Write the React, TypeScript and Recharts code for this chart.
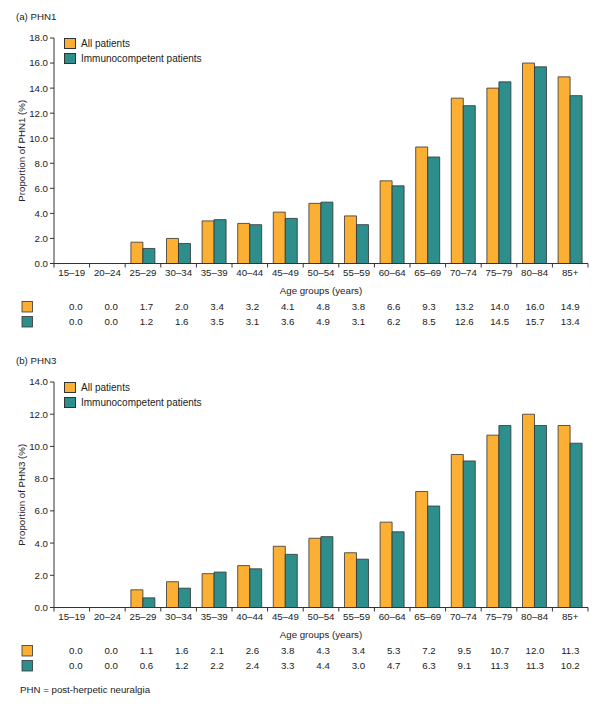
import React from 'react';
import { BarChart, Bar, XAxis, YAxis, Legend } from 'recharts';

const categories = ['15–19', '20–24', '25–29', '30–34', '35–39', '40–44', '45–49', '50–54', '55–59', '60–64', '65–69', '70–74', '75–79', '80–84', '85+'];
const phn1All = [0.0, 0.0, 1.7, 2.0, 3.4, 3.2, 4.1, 4.8, 3.8, 6.6, 9.3, 13.2, 14.0, 16.0, 14.9];
const phn1Immuno = [0.0, 0.0, 1.2, 1.6, 3.5, 3.1, 3.6, 4.9, 3.1, 6.2, 8.5, 12.6, 14.5, 15.7, 13.4];
const phn3All = [0.0, 0.0, 1.1, 1.6, 2.1, 2.6, 3.8, 4.3, 3.4, 5.3, 7.2, 9.5, 10.7, 12.0, 11.3];
const phn3Immuno = [0.0, 0.0, 0.6, 1.2, 2.2, 2.4, 3.3, 4.4, 3.0, 4.7, 6.3, 9.1, 11.3, 11.3, 10.2];
const phn1Ticks = [0, 2, 4, 6, 8, 10, 12, 14, 16, 18];
const phn3Ticks = [0, 2, 4, 6, 8, 10, 12, 14];

const ORANGE = '#FBB033';
const TEAL = '#2E8E8C';
const STROKE = '#333333';
const TEXT = '#222222';
const FONT = '"Liberation Sans", Arial, Helvetica, sans-serif';

const makeTick = (rowA: number[], rowB: number[]) => (props: any) => {
  const { x, y, payload } = props;
  const index = props.index ?? payload?.index ?? 0;
  const half = payload?.offset ?? 17.8;
  const n = rowA.length;
  const shift = 4 - 0.28 * index;
  return (
    <g>
      <line x1={x - half} y1={y} x2={x - half} y2={y + 4} stroke={STROKE} strokeWidth={1} />
      {index === n - 1 && (
        <line x1={x + half} y1={y} x2={x + half} y2={y + 4} stroke={STROKE} strokeWidth={1} />
      )}
      <text x={x} y={y + 8.6} textAnchor="middle" dominantBaseline="central" fontSize={9.7} fill={TEXT} fontFamily={FONT}>
        {payload.value}
      </text>
      <text x={x + shift} y={y + 43.4} textAnchor="middle" dominantBaseline="central" fontSize={9.7} fill={TEXT} fontFamily={FONT}>
        {rowA[index].toFixed(1)}
      </text>
      <text x={x + shift} y={y + 58.4} textAnchor="middle" dominantBaseline="central" fontSize={9.7} fill={TEXT} fontFamily={FONT}>
        {rowB[index].toFixed(1)}
      </text>
      {index === 0 && (
        <g>
          <rect x={22} y={y + 38} width={10.5} height={10.5} fill={ORANGE} stroke={STROKE} strokeWidth={0.8} />
          <rect x={22} y={y + 53} width={10.5} height={10.5} fill={TEAL} stroke={STROKE} strokeWidth={0.8} />
        </g>
      )}
    </g>
  );
};

const LegendContent = (props: any) => {
  const items = props.payload || [];
  return (
    <div style={{ fontFamily: FONT, fontSize: 10, color: TEXT }}>
      {items.map((it: any, i: number) => (
        <div key={i} style={{ display: 'flex', alignItems: 'center', height: 15 }}>
          <span
            style={{
              display: 'inline-block',
              width: 10,
              height: 9.5,
              background: it.color,
              border: `0.8px solid ${STROKE}`,
              marginRight: 5,
            }}
          />
          <span>{it.value}</span>
        </div>
      ))}
    </div>
  );
};

function Panel(props: { allVals: number[]; immVals: number[]; ticks: number[]; yLabel: string }) {
  const { allVals, immVals, ticks, yLabel } = props;
  const data = categories.map((c, i) => ({ age: c, all: allVals[i], imm: immVals[i] }));
  const yMax = ticks[ticks.length - 1];
  return (
    <BarChart
      width={600}
      height={344}
      data={data}
      margin={{ top: 38, right: 12, left: 0, bottom: 20.5 }}
      barCategoryGap="16%"
      barGap={0}
    >
      <XAxis
        dataKey="age"
        axisLine={{ stroke: STROKE }}
        tickLine={false}
        tickSize={0}
        tickMargin={0}
        height={60}
        interval={0}
        tick={makeTick(allVals, immVals)}
        label={{
          content: (p: any) => {
            const vb = p.viewBox || {};
            return (
              <text x={vb.x + vb.width / 2} y={vb.y + 26.5} textAnchor="middle" dominantBaseline="central" fontSize={9.7} fill={TEXT} fontFamily={FONT}>
                Age groups (years)
              </text>
            );
          },
        }}
      />
      <YAxis
        width={54}
        domain={[0, yMax]}
        ticks={ticks}
        interval={0}
        tickFormatter={(v: number) => v.toFixed(1)}
        axisLine={{ stroke: STROKE }}
        tickLine={{ stroke: STROKE }}
        tickSize={4}
        tickMargin={2}
        tick={{ fontSize: 9.7, fill: TEXT, fontFamily: FONT }}
        label={{
          content: (p: any) => {
            const vb = p.viewBox || {};
            const cy = vb.y + vb.height / 2;
            return (
              <text x={21} y={cy} transform={`rotate(-90, 21, ${cy})`} textAnchor="middle" dominantBaseline="central" fontSize={9.7} fill={TEXT} fontFamily={FONT}>
                {yLabel}
              </text>
            );
          },
        }}
      />
      <Legend
        layout="vertical"
        align="center"
        verticalAlign="middle"
        content={LegendContent}
        wrapperStyle={{ position: 'absolute', left: 64, top: 36, width: 200, height: 30 }}
      />
      <Bar dataKey="all" name="All patients" fill={ORANGE} stroke={STROKE} strokeWidth={0.8} isAnimationActive={false} />
      <Bar dataKey="imm" name="Immunocompetent patients" fill={TEAL} stroke={STROKE} strokeWidth={0.8} isAnimationActive={false} />
    </BarChart>
  );
}

export default function App() {
  const textStyle: React.CSSProperties = {
    position: 'absolute',
    fontFamily: FONT,
    fontSize: 9.7,
    color: TEXT,
    lineHeight: '12px',
    whiteSpace: 'nowrap',
  };
  return (
    <div style={{ position: 'absolute', left: 0, top: 0, width: 600, height: 707, background: '#fff', fontFamily: FONT }}>
      <div style={{ ...textStyle, left: 16, top: 11 }}>(a) PHN1</div>
      <div style={{ position: 'absolute', left: 0, top: 0 }}>
        <Panel allVals={phn1All} immVals={phn1Immuno} ticks={phn1Ticks} yLabel="Proportion of PHN1 (%)" />
      </div>
      <div style={{ ...textStyle, left: 16, top: 355 }}>(b) PHN3</div>
      <div style={{ position: 'absolute', left: 0, top: 344 }}>
        <Panel allVals={phn3All} immVals={phn3Immuno} ticks={phn3Ticks} yLabel="Proportion of PHN3 (%)" />
      </div>
      <div style={{ ...textStyle, left: 20, top: 684 }}>PHN = post-herpetic neuralgia</div>
    </div>
  );
}
